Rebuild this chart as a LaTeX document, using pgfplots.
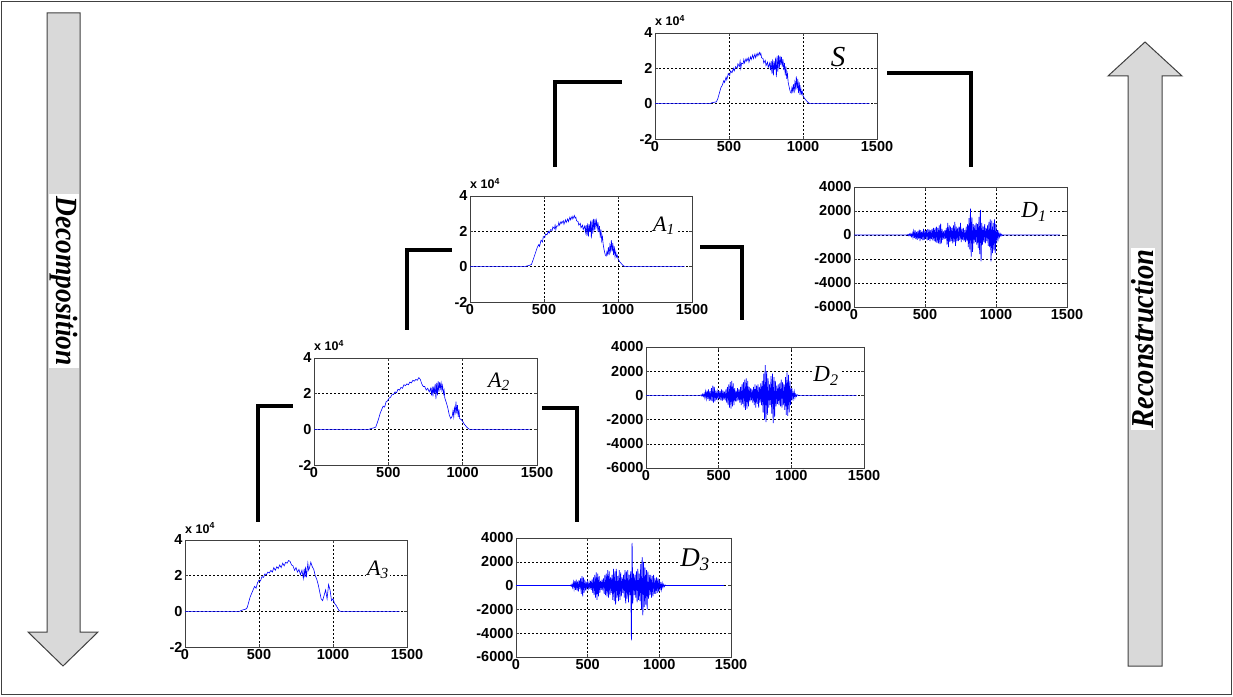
\documentclass[border=0pt]{standalone}
\usepackage{pgfplots}
\pgfplotsset{compat=1.18}
\usepackage{fontspec}
\setmainfont{Liberation Sans}
\newfontfamily\tnr{Liberation Serif}
\definecolor{arrowfill}{RGB}{217,217,217}
\definecolor{arrowdraw}{RGB}{64,64,64}
\pgfplotsset{
  mini/.style={scale only axis, anchor=south west, xmin=0, xmax=1500, xtick={0,500,1000,1500},
    clip mode=individual,
    grid=major, major grid style={black, line width=0.5pt, dash pattern=on 2pt off 2pt},
    axis line style={black!75, line width=0.8pt},
    tick align=inside, major tick length=3pt, tick style={black!75, line width=0.5pt},
    ticklabel style={font=\bfseries\fontsize{14.5}{14.5}\selectfont},
    xticklabel style={yshift=1pt},
    yticklabel style={xshift=1pt},
    /pgf/number format/assume math mode=true, /pgf/number format/1000 sep={},
    scaled ticks=false},
  apx/.style={mini, ymin=-2, ymax=4, ytick={-2,0,2,4}},
  det/.style={mini, ymin=-6000, ymax=4000, ytick={-6000,-4000,-2000,0,2000,4000}},
  sig/.style={blue, line width=0.6pt, mark=none},
  dsig/.style={blue, line width=0.7pt, mark=none},
}
\newcommand{\xten}{\node[anchor=base west, inner sep=0pt, yshift=7pt, font=\bfseries\fontsize{12.5}{12.5}\selectfont] at (rel axis cs:0,1) {x 10\textsuperscript{4}};}
\begin{document}
\begin{tikzpicture}[x=1pt,y=1pt]
\path[use as bounding box] (0,0) rectangle (1233,696);
\draw[arrowdraw, line width=1pt] (1.5,1.5) rectangle (1231.5,694.5);

% arrows
\draw[arrowdraw, fill=arrowfill, line width=1pt] (47,683)--(80,683)--(80,64)--(98,64)--(63,30)--(28,64)--(47,64)--cycle;
\draw[arrowdraw, fill=arrowfill, line width=1pt] (1128,30)--(1162,30)--(1162,620)--(1182,620)--(1145,654)--(1108,620)--(1128,620)--cycle;
\node[fill=white, inner xsep=2pt, inner ysep=1pt, rotate=-90, font=\tnr\bfseries\itshape\fontsize{27.5}{27.5}\selectfont] at (64,415) {\scalebox{1}[1.12]{Decomposition}};
\node[fill=white, inner xsep=2pt, inner ysep=1pt, rotate=90, font=\tnr\bfseries\itshape\fontsize{28.5}{28.5}\selectfont] at (1143,357) {\scalebox{1}[1.12]{Reconstruction}};

% connectors
\begin{scope}[line width=4.5pt, black, line join=miter, line cap=butt]
\draw (555,529)--(555,614)--(622,614);
\draw (887,623)--(971,623)--(971,529);
\draw (407,366)--(407,446)--(452,446);
\draw (700,449)--(742,449)--(742,376);
\draw (258,174)--(258,290)--(293,290);
\draw (542,288)--(577,288)--(577,174);
\end{scope}

% S
\begin{axis}[apx, at={(655pt,557pt)}, width=222pt, height=106pt]
\addplot[sig] coordinates {(0,0)(370,0)(385,0.05)(400,0.08)(415,0.1)(425,0.3)(435,0.6)(445,0.9)(455,1.05)(465,1.3)(470,1.2)(480,1.5)(485,1.35)(495,1.7)(505,1.6)(510,1.85)(520,1.75)(530,2.0)(535,1.85)(545,2.1)(555,2.0)(560,2.25)(570,2.1)(575,2.4)(580,2.0)(585,2.3)(595,2.25)(600,2.5)(605,2.3)(615,2.55)(620,2.4)(630,2.6)(635,2.35)(645,2.65)(650,2.5)(660,2.75)(665,2.55)(675,2.8)(680,2.6)(690,2.85)(695,2.7)(705,2.9)(710,2.75)(715,2.85)(720,2.6)(730,2.55)(735,2.3)(745,2.45)(750,2.15)(760,2.35)(765,2.05)(775,2.3)(780,1.9)(785,2.4)(790,1.7)(795,2.5)(800,1.6)(805,2.4)(810,1.9)(815,2.6)(820,1.5)(825,2.7)(830,1.8)(835,2.75)(840,2.0)(845,2.7)(850,2.2)(855,2.65)(860,2.1)(865,2.5)(870,1.9)(875,2.3)(880,1.6)(885,2.1)(890,1.4)(895,1.7)(900,1.2)(905,1.0)(910,0.8)(915,0.65)(920,0.6)(925,0.9)(930,0.7)(935,1.1)(940,0.6)(945,1.2)(950,0.9)(955,1.55)(960,0.8)(965,1.4)(970,0.6)(975,1.2)(980,0.5)(985,0.9)(990,0.55)(995,0.7)(1000,0.45)(1010,0.3)(1020,0.2)(1030,0.1)(1045,0)(1450,0)};
\xten
\end{axis}

% A1
\begin{axis}[apx, at={(470pt,394pt)}, width=222pt, height=106pt]
\addplot[sig] coordinates {(0,0)(370,0)(385,0.04)(400,0.07)(415,0.12)(425,0.35)(435,0.6)(445,0.85)(455,1.1)(465,1.25)(470,1.15)(480,1.5)(490,1.4)(495,1.7)(505,1.65)(510,1.85)(520,1.8)(530,2.0)(535,1.9)(545,2.1)(555,2.05)(560,2.25)(570,2.15)(575,2.35)(580,2.1)(585,2.3)(595,2.3)(600,2.5)(605,2.35)(615,2.55)(620,2.45)(630,2.6)(635,2.4)(645,2.65)(650,2.5)(660,2.7)(665,2.55)(675,2.8)(680,2.65)(690,2.85)(695,2.7)(705,2.9)(710,2.75)(715,2.8)(720,2.6)(730,2.55)(735,2.35)(745,2.45)(750,2.2)(760,2.35)(765,2.1)(775,2.3)(780,1.95)(785,2.35)(790,1.75)(795,2.45)(800,1.7)(805,2.4)(810,1.95)(815,2.6)(820,1.6)(825,2.65)(830,1.85)(835,2.7)(840,2.05)(845,2.7)(850,2.25)(855,2.6)(860,2.15)(865,2.5)(870,1.95)(875,2.3)(880,1.65)(885,2.1)(890,1.45)(895,1.7)(900,1.25)(905,1.0)(910,0.8)(915,0.65)(920,0.6)(925,0.85)(930,0.7)(935,1.1)(940,0.65)(945,1.2)(950,0.9)(955,1.5)(960,0.85)(965,1.35)(970,0.65)(975,1.15)(980,0.55)(985,0.85)(990,0.55)(995,0.65)(1000,0.45)(1010,0.3)(1020,0.2)(1030,0.1)(1045,0)(1450,0)};
\xten
\end{axis}

% A2
\begin{axis}[apx, at={(314pt,231pt)}, width=223pt, height=107pt]
\addplot[sig] coordinates {(0,0)(370,0)(385,0.05)(400,0.08)(415,0.12)(425,0.35)(435,0.6)(445,0.9)(455,1.1)(465,1.3)(475,1.25)(485,1.55)(495,1.6)(505,1.75)(515,1.8)(525,1.95)(535,1.95)(545,2.1)(555,2.05)(565,2.25)(575,2.2)(585,2.35)(595,2.3)(605,2.5)(615,2.45)(625,2.55)(635,2.5)(645,2.65)(655,2.6)(665,2.75)(675,2.7)(685,2.8)(695,2.75)(705,2.9)(715,2.8)(725,2.55)(735,2.4)(745,2.4)(755,2.2)(765,2.3)(775,2.1)(785,2.3)(790,1.9)(795,2.4)(800,1.85)(805,2.4)(810,2.0)(815,2.55)(820,1.7)(825,2.6)(830,1.9)(835,2.7)(840,2.1)(845,2.65)(850,2.3)(855,2.6)(860,2.2)(865,2.45)(870,2.0)(875,2.2)(880,1.75)(890,1.5)(900,1.2)(910,0.8)(920,0.6)(930,0.75)(935,1.05)(940,0.7)(945,1.2)(950,0.95)(955,1.55)(960,0.9)(965,1.35)(970,0.7)(975,1.1)(980,0.6)(990,0.55)(1000,0.45)(1010,0.3)(1020,0.2)(1030,0.1)(1045,0)(1450,0)};
\xten
\end{axis}

% A3
\begin{axis}[apx, at={(185pt,49pt)}, width=222pt, height=107pt]
\addplot[sig] coordinates {(0,0)(370,0)(380,0.05)(390,0.08)(400,0.1)(410,0.12)(420,0.2)(430,0.5)(440,0.8)(450,1.0)(460,1.2)(470,1.4)(480,1.3)(490,1.6)(500,1.75)(510,1.7)(520,1.95)(530,1.9)(540,2.1)(550,2.05)(560,2.2)(570,2.15)(580,2.3)(590,2.2)(600,2.45)(610,2.3)(620,2.5)(630,2.4)(640,2.6)(650,2.45)(660,2.7)(670,2.55)(680,2.75)(690,2.7)(700,2.85)(710,2.8)(720,2.6)(730,2.55)(740,2.3)(750,2.45)(760,2.2)(770,2.35)(780,2.05)(790,2.3)(800,1.85)(805,2.4)(810,1.9)(815,2.5)(820,1.9)(830,2.7)(835,2.3)(840,2.4)(850,2.75)(860,2.5)(870,2.35)(880,2.0)(890,1.8)(900,1.5)(910,1.1)(920,0.7)(930,0.6)(940,0.9)(950,1.2)(960,0.7)(970,1.5)(980,1.2)(990,0.6)(1000,0.7)(1010,0.45)(1020,0.35)(1030,0.2)(1040,0.05)(1050,0)(1450,0)};
\xten
\end{axis}

% D1
\begin{axis}[det, at={(854pt,389pt)}, width=213pt, height=120pt]
\addplot[dsig] coordinates {(0,0)(375,0)(380,60)(385,-50)(390,80)(395,-70)(400,100)(405,-120)(410,150)(415,-200)(420,300)(425,-250)(430,400)(435,-350)(440,250)(445,-400)(450,350)(455,-300)(460,450)(465,-500)(470,400)(475,-350)(480,300)(485,-450)(490,500)(495,-400)(500,350)(505,-300)(510,400)(515,-450)(520,500)(525,-400)(530,450)(535,-500)(540,400)(545,-350)(550,500)(555,-450)(560,600)(565,-500)(570,550)(575,-600)(580,700)(585,-650)(590,600)(595,-700)(600,800)(605,-750)(610,950)(615,-700)(620,500)(625,-400)(630,300)(635,-350)(640,400)(645,-300)(650,600)(655,-800)(660,1000)(665,-1000)(670,800)(675,-600)(680,700)(685,-500)(690,600)(695,-700)(700,800)(705,-600)(710,1100)(715,-900)(720,700)(725,-500)(730,600)(735,-500)(740,700)(745,-400)(750,1000)(755,-600)(760,500)(765,-400)(770,600)(775,-500)(780,400)(785,-600)(790,700)(795,-500)(800,900)(805,-1000)(810,1400)(815,-1200)(820,2200)(825,-1800)(830,1500)(835,-1400)(840,900)(845,-700)(850,800)(855,-600)(860,1000)(865,-800)(870,900)(875,-1100)(880,1500)(885,-1600)(890,2100)(895,-2200)(900,1000)(905,-800)(910,700)(915,-600)(920,900)(925,-700)(930,600)(935,-500)(940,800)(945,-900)(950,1100)(955,-1000)(960,1300)(965,-2200)(970,1200)(975,-1500)(980,1000)(985,-1300)(990,1300)(995,-1500)(1000,900)(1005,-700)(1010,400)(1015,-300)(1020,200)(1025,-150)(1030,100)(1035,-80)(1040,60)(1045,-40)(1050,0)(1450,0)};
\end{axis}

% D2
\begin{axis}[det, at={(646pt,228pt)}, width=218pt, height=121pt]
\addplot[dsig] coordinates {(0,0)(375,0)(380,50)(385,-60)(390,100)(395,-80)(400,150)(405,-200)(410,300)(415,-250)(420,400)(425,-300)(430,500)(435,-450)(440,350)(445,-400)(450,600)(455,-500)(460,800)(465,-600)(470,700)(475,-500)(480,400)(485,-350)(490,300)(495,-250)(500,400)(505,-300)(510,350)(515,-400)(520,500)(525,-450)(530,400)(535,-350)(540,300)(545,-400)(550,500)(555,-600)(560,700)(565,-800)(570,900)(575,-1000)(580,1100)(585,-1100)(590,1200)(595,-900)(600,1000)(605,-800)(610,600)(615,-500)(620,400)(625,-500)(630,600)(635,-400)(640,500)(645,-600)(650,700)(655,-800)(660,900)(665,-700)(670,1100)(675,-1000)(680,1300)(685,-1200)(690,1400)(695,-1100)(700,1200)(705,-900)(710,700)(715,-500)(720,600)(725,-400)(730,500)(735,-600)(740,700)(745,-800)(750,900)(755,-1000)(760,800)(765,-700)(770,900)(775,-1000)(780,700)(785,-600)(790,1000)(795,-800)(800,1200)(805,-1400)(810,1800)(815,-2000)(820,2500)(825,-2200)(830,2000)(835,-1600)(840,1400)(845,-1000)(850,900)(855,-800)(860,1600)(865,-1500)(870,1800)(875,-2300)(880,1500)(885,-1800)(890,1200)(895,-900)(900,800)(905,-700)(910,900)(915,-800)(920,1000)(925,-900)(930,1300)(935,-1000)(940,1100)(945,-800)(950,900)(955,-1200)(960,1500)(965,-1600)(970,1900)(975,-1700)(980,1700)(985,-1400)(990,1200)(995,-800)(1000,600)(1005,-400)(1010,300)(1015,-200)(1020,300)(1025,-200)(1030,100)(1035,-80)(1040,50)(1050,0)(1450,0)};
\end{axis}

% D3
\begin{axis}[det, at={(516pt,39pt)}, width=215pt, height=119pt]
\addplot[dsig] coordinates {(0,0)(375,0)(380,40)(385,-50)(390,100)(395,-150)(400,300)(405,-250)(410,400)(415,-350)(420,500)(425,-400)(430,350)(435,-500)(440,450)(445,-300)(450,600)(455,-700)(460,800)(465,-900)(470,700)(475,-600)(480,500)(485,-400)(490,300)(495,-250)(500,300)(505,-200)(510,250)(515,-300)(520,400)(525,-350)(530,500)(535,-600)(540,700)(545,-800)(550,900)(555,-1000)(560,1100)(565,-1200)(570,1000)(575,-900)(580,800)(585,-600)(590,400)(595,-350)(600,500)(605,-400)(610,600)(615,-700)(620,900)(625,-800)(630,1000)(635,-900)(640,1300)(645,-1000)(650,1200)(655,-800)(660,700)(665,-600)(670,900)(675,-1200)(680,1400)(685,-1300)(690,1200)(695,-1600)(700,1400)(705,-1000)(710,800)(715,-1300)(720,1300)(725,-1200)(730,1100)(735,-900)(740,700)(745,-600)(750,900)(755,-1000)(760,1300)(765,-1500)(770,1200)(775,-1100)(780,1300)(785,-1400)(790,900)(795,-800)(800,1200)(805,-4600)(810,3600)(815,-1500)(820,1000)(825,-800)(830,900)(835,-1000)(840,1200)(845,-1400)(850,1400)(855,-1200)(860,1000)(865,-1300)(870,1800)(875,-2000)(880,2400)(885,-2500)(890,2000)(895,-1800)(900,1500)(905,-1600)(910,1300)(915,-2000)(920,1200)(925,-1100)(930,900)(935,-800)(940,900)(945,-1000)(950,800)(955,-900)(960,900)(965,-700)(970,600)(975,-700)(980,700)(985,-600)(990,600)(995,-500)(1000,500)(1005,-400)(1010,300)(1015,-300)(1020,200)(1025,-150)(1030,100)(1035,-80)(1040,50)(1050,0)(1450,0)};
\end{axis}

% labels
\begin{scope}[every node/.style={fill=white, inner sep=1pt}]
\node[font=\tnr\itshape\fontsize{29}{29}\selectfont] at (838,639) {S};
\node[font=\tnr\itshape\fontsize{22}{22}\selectfont] at (664,470) {A\textsubscript{1}};
\node[font=\tnr\itshape\fontsize{22}{22}\selectfont] at (499,314) {A\textsubscript{2}};
\node[font=\tnr\itshape\fontsize{22}{22}\selectfont] at (378,126) {A\textsubscript{3}};
\node[font=\tnr\itshape\fontsize{23}{23}\selectfont] at (1034,484) {D\textsubscript{1}};
\node[font=\tnr\itshape\fontsize{23}{23}\selectfont] at (826,320) {D\textsubscript{2}};
\node[font=\tnr\itshape\fontsize{27}{27}\selectfont] at (695,136) {D\textsubscript{3}};
\end{scope}
\end{tikzpicture}
\end{document}
